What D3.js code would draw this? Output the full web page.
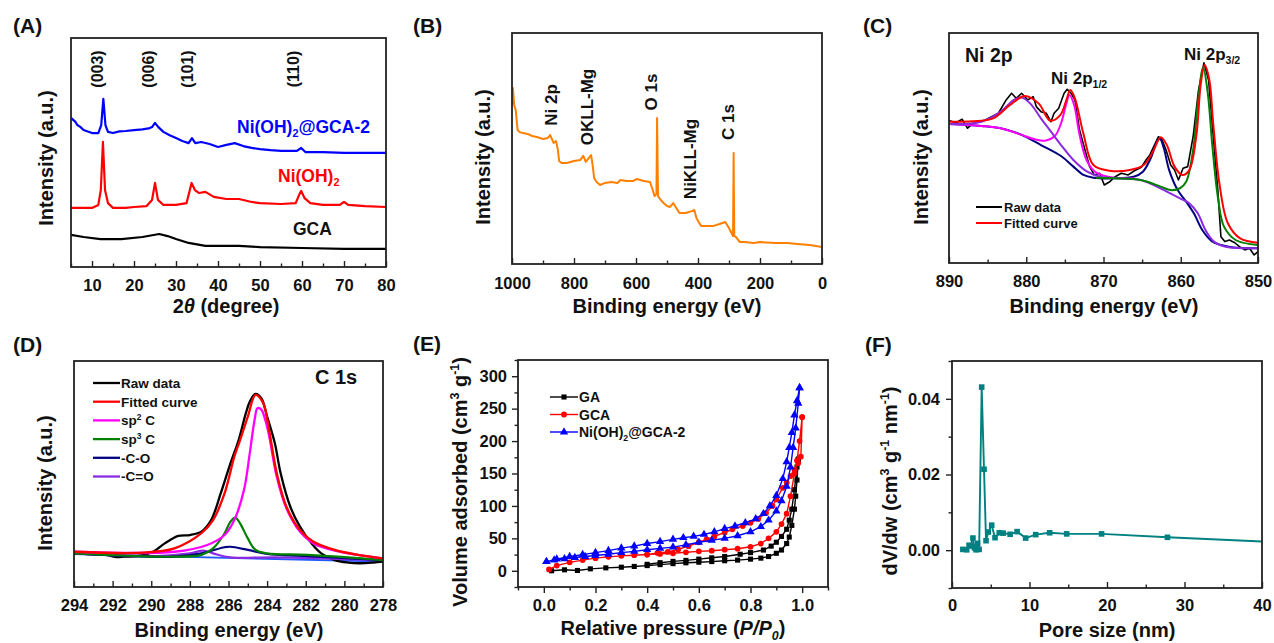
<html>

<head>
    <script src="https://d3js.org/d3.v7.min.js"></script>
    <style>
        body {
            margin: 0;
            background: white;
        }

        text {
            font-family: "Liberation Sans", Arial, sans-serif;
            font-weight: bold;
        }
    </style>
</head>

<body>
    <svg id="fig" width="1274" height="643"></svg>
</body>

<script>
    // ---------- (A) XRD ----------
    const xrdNiGca = [[5,65.1],[6,63.5],[6.5,62],[7.2,61.2],[8,59.8],[9,59.2],[10,58.5],[11.5,58.5],[12.2,62],[12.7,73.4],[13.2,62],[13.8,59],[15,58.5],[16.5,59.2],[18,59.4],[20,59.8],[22,60.1],[23.5,60.5],[24.3,61.1],[25,62.9],[25.8,61.1],[27,59],[28.5,57.5],[30,56.3],[31.5,55],[33,54.1],[33.8,56.3],[34.6,54.1],[36,54.6],[38,53.7],[40,52.4],[42,53.3],[44,54.1],[46,52.8],[48,52],[50,51.5],[52.5,51],[55,50.7],[58.8,50.7],[59.8,52],[60.8,50.2],[65,50.2],[70,49.8],[75,49.8],[80,49.8]];
    const xrdNiOH = [[5,25.8],[8,25.8],[10,25.8],[11.5,27.1],[12.1,33.6],[12.6,54.6],[13.1,33.6],[13.8,27.9],[15,25.8],[18,25.8],[20,26.2],[23,26.6],[24.3,29.3],[25,36.7],[25.7,29.3],[27,27.1],[30,27.1],[32.5,27.9],[33.3,33.6],[33.7,36.7],[34.5,33.6],[35.5,32.3],[37,32.8],[39,30.6],[42,29.7],[45,29.7],[48,28.4],[50,27.9],[55,27.5],[58.5,27.9],[59.3,31.4],[59.8,33.2],[60.6,30.1],[62,27.9],[65,27.1],[69,27.1],[70,28.4],[71,27.1],[75,26.6],[80,26.2]];
    const xrdGca = [[5,14],[8,13.1],[12,12.2],[17,12.2],[22,13.1],[26,14.4],[28,13.5],[30,12.2],[33,10.5],[37,9.2],[45,9.2],[50,8.7],[60,8.3],[70,7.9],[80,7.9]];
    const xrdPeaks = [12.6, 24.8, 34, 59.3];
    const xrdHkl = ["(003)", "(006)", "(101)", "(110)"];
    const xrdMajor = [10, 20, 30, 40, 50, 60, 70, 80];
    const xrdMinor = [5, 15, 25, 35, 45, 55, 65, 75];

    // ---------- (B) XPS survey ----------
    const survey = [[1000,68.8],[997,76.2],[993,68.8],[988,66.7],[982,58],[975,57.1],[965,56.7],[950,56.3],[935,55.4],[920,55],[900,54.1],[885,54.5],[877,55.8],[870,53.7],[866,52.4],[858,53.2],[852,49.4],[848,44.6],[840,43.7],[823,43.7],[800,44.6],[780,45],[770,46.8],[762,44.2],[752,45.9],[745,47.2],[740,42.9],[735,37.2],[727,35.5],[716,34.2],[700,35.1],[680,35.5],[660,35.1],[650,36.4],[630,35.9],[610,35.9],[597,36.8],[575,35.9],[555,35.5],[548,32.9],[540,29.4],[534,30.3],[532,63.2],[529,29.4],[520,27.7],[511,26.4],[500,25.1],[490,24.7],[480,26.4],[470,24.2],[460,22.1],[440,22.1],[420,22.9],[412,23.4],[405,19.9],[398,18.2],[390,16.5],[370,16.5],[350,16.5],[330,17.3],[312,18.2],[302,16],[292,13.4],[287,12.1],[285,48.1],[283,12.1],[278,11.7],[265,9.5],[250,9.5],[220,9.1],[200,9.5],[150,9.1],[112,9.1],[80,8.7],[40,8.2],[0,7.4]];
    const surveyLabels = ["Ni 2p", "OKLL-Mg", "O 1s", "NiKLL-Mg", "C 1s"];
    const surveyLabelX = [855, 740, 532, 405, 285];
    const surveyMajor = [1000, 800, 600, 400, 200, 0];
    const surveyMinor = [900, 700, 500, 300, 100];

    // ---------- (C) Ni 2p ----------
    const ni2pRaw = [[890,61.9],[889.1,61],[888.3,62.5],[887.6,58.6],[887,60.4],[886.2,61.4],[885.3,62.2],[884.5,63.6],[883.6,65.1],[882.6,70.9],[881.9,73.8],[881.3,71.6],[880.6,73.8],[879.8,70.9],[879.1,72.3],[878.7,68],[878.1,65.8],[877.4,65.1],[876.8,61.4],[876.4,65.1],[875.8,67.3],[875.1,73.8],[874.7,75.5],[874.2,73.8],[873.7,70.9],[873.1,57.8],[872.4,49.1],[871.8,41.9],[871.2,38.3],[870.5,39],[869.9,33.9],[869.2,35.3],[868.6,37.3],[867.7,39],[866.8,38.3],[866,40.1],[865.1,41.6],[864.5,44.8],[864,47],[863.5,50.6],[862.9,54.9],[862.5,54.2],[861.9,49.1],[861.3,42.6],[860.8,40.4],[860.3,36.1],[859.7,41.2],[859.1,41.9],[858.4,54.9],[857.7,75.2],[857,87],[856.4,79.6],[855.9,59.3],[855.2,31.7],[854.8,11.4],[854.3,9.3],[853.7,10],[853,8.8],[852.4,7.1],[851.7,5.7],[851.1,6.4],[850.5,3.5],[850,4.9]];
    const ni2pFit = [[890,61.4],[887,61.6],[884.3,62.9],[882.1,68.7],[880.2,72.6],[878.4,69.4],[876.9,61.9],[875.6,64.3],[874.8,70.9],[874.3,75.2],[873.7,71.6],[872.6,56.2],[871.3,42.6],[869.2,40.1],[866.6,40.4],[864.8,42.6],[863.6,48.4],[862.6,54.7],[861.8,51.3],[860.8,41.9],[859.8,38.3],[858.9,40.4],[858,54.9],[857.4,78.1],[856.9,86.1],[856.3,79.6],[855.8,60.7],[855,34.7],[853.9,17.3],[852.3,10.7],[850,8.8]];
    const ni2pSatA = [[890,60.4],[885.8,59.6],[883.3,58.6],[880.6,55.7],[878.1,51.3],[875.5,46.5],[873.9,41.9],[872.6,38.3],[871.3,37.1],[868.7,36.8],[866.1,37.5],[864.9,39.7],[863.8,46.2],[863.2,52],[862.7,54],[862.2,50],[861.5,40.4],[860.4,31.7],[859.3,26.7],[858.3,21.6],[857.2,14.3],[855.9,9.3],[853.8,7.1],[850,6.4]];
    const ni2pSatB = [[890,60.4],[885.8,61.4],[883.3,65.8],[881.6,70.9],[880.6,71.9],[879.5,69.4],[878.1,62.9],[876.8,57.1],[875.5,51.3],[873.9,44.8],[872.1,39.7],[870.4,37.5],[867.8,36.8],[865.2,36.1],[863.5,33.9],[861.8,31],[860.1,28.1],[858.9,26],[857.8,21.6],[856.8,14.3],[855.7,9.3],[854.2,7.1],[850,6.4]];
    const ni2p12 = [[890,60.4],[885.8,59.6],[883.3,58.6],[880.6,55.7],[878.9,53.8],[877.6,53.2],[876.3,55.2],[875.5,60.7],[874.8,69.4],[874.4,73],[873.8,68.7],[873.1,55.7],[872.2,44.8],[871.1,39.7],[869.4,37.5],[867.3,36.8],[866,36.8]];
    const ni2p32 = [[871,37.1],[868.7,36.8],[866.1,36.5],[864.3,35.3],[862.6,33.2],[861.3,31.7],[860.1,32.5],[859.3,35.3],[858.4,49.1],[857.8,69.4],[857.1,85],[856.5,73.8],[855.9,50.6],[855.2,28.8],[854.4,15.8],[852.9,10],[850,7.8]];
    const ni2pMajor = [890, 880, 870, 860, 850];
    const ni2pMinor = [885, 875, 865, 855];

    // ---------- (D) C 1s ----------
    const c1sRaw = [[294,14.9],[293,14.5],[292.3,14.2],[291.8,13.2],[291.4,13.4],[290.5,14],[289.9,15.6],[289.3,19.3],[288.6,22.6],[288,23],[287.4,24.5],[286.9,29.6],[286.4,41.5],[285.9,54.7],[285.5,64.3],[285.1,76.9],[284.9,82],[284.6,85.4],[284.3,83.5],[284,75.4],[283.6,63.6],[283.3,50.3],[282.8,35.5],[282.3,26.7],[281.7,19.3],[281.2,14.9],[280.5,11.9],[279.8,10.8],[279.2,10.5],[278.5,10.8],[278,11.2]];
    const c1sFit = [[294,15.6],[290.5,15.2],[288.8,17.1],[287.4,23.8],[286.8,29.6],[286.2,41.5],[285.7,57.7],[285.4,65],[285,75.4],[284.6,85],[284.2,81.3],[283.9,69.5],[283.5,50.3],[283,35.5],[282.3,25.2],[281.6,20],[280.5,16.4],[279.3,14.2],[278,12.7]];
    const c1sSp2 = [[294,15.6],[288.8,15.6],[287.1,18.6],[286.2,23],[285.7,29.6],[285.2,42.9],[284.9,59.1],[284.65,73.9],[284.5,79.1],[284.3,78.5],[284.1,74],[283.9,67],[283.5,48.8],[283,34.8],[282.3,24.5],[281.6,19.3],[280.5,16.1],[279.3,14.2],[278,12.7]];
    const c1sSp3 = [[294,14.9],[288.8,13.4],[287.4,14.2],[286.8,17.1],[286.2,23.8],[285.9,28.9],[285.65,30.7],[285.4,28.2],[285,21.5],[284.6,16.4],[284,14.9],[281.9,14.2],[278,11.9]];
    const c1sCO = [[294,14.9],[288.8,13.4],[287.4,14.9],[286.2,17.6],[285.9,17.8],[285,16.4],[284,14.6],[281.9,13.7],[278,11.9]];
    const c1sCdO = [[294,14.9],[289.7,13.7],[288,14.9],[287.3,16.1],[286.8,14.9],[285.9,13.1],[283.6,13.1],[278,11.9]];
    const c1sBase = [[294,14.6],[278,11.2]];
    const c1sMajor = [294, 292, 290, 288, 286, 284, 282, 280, 278];
    const c1sMinor = [293, 291, 289, 287, 285, 283, 281, 279];

    // ---------- (E) N2 isotherms ----------
    const gaAds = [[0.03,0],[0.08,1.5],[0.13,0.5],[0.18,3],[0.24,4.5],[0.3,5.5],[0.35,6.7],[0.4,8],[0.45,9.5],[0.5,11],[0.55,12.3],[0.6,13.2],[0.65,14.2],[0.7,15.5],[0.75,16.5],[0.8,18],[0.84,19.5],[0.87,22],[0.9,27],[0.92,32],[0.94,42],[0.95,52],[0.96,70],[0.97,95],[0.975,115],[0.98,140],[0.985,172]];
    const gaDes = [[0.985,172],[0.98,160],[0.97,125],[0.96,95],[0.95,78],[0.94,64],[0.92,53],[0.9,44],[0.88,38],[0.85,32],[0.8,28],[0.76,25.5],[0.7,22],[0.65,20],[0.6,18],[0.55,16],[0.5,14.5],[0.45,12.5],[0.4,10]];
    const gcaAds = [[0.02,2],[0.05,8],[0.1,13],[0.15,16.5],[0.2,19.5],[0.25,21.5],[0.3,23],[0.35,24],[0.4,25],[0.45,26],[0.5,27],[0.55,28.5],[0.6,30],[0.65,31],[0.7,32.5],[0.75,34],[0.8,37],[0.84,42],[0.87,50],[0.9,60],[0.92,72],[0.94,88],[0.955,115],[0.97,150],[0.98,170],[0.99,200],[1.0,237]];
    const gcaDes = [[1.0,237],[0.995,176],[0.985,166],[0.97,156],[0.955,146],[0.94,136],[0.925,128],[0.9,110],[0.885,100],[0.86,89],[0.83,80],[0.8,74],[0.77,69],[0.73,64],[0.7,59],[0.66,53],[0.63,48.5],[0.6,44],[0.56,38],[0.52,33],[0.48,29],[0.44,27.5],[0.4,25]];
    const niAds = [[0.01,14],[0.04,16.5],[0.08,18.5],[0.12,20.5],[0.16,22],[0.2,23.5],[0.25,25.5],[0.3,28],[0.35,30],[0.4,32.5],[0.45,34.5],[0.5,36.5],[0.55,40],[0.6,44],[0.65,47],[0.7,50],[0.75,54],[0.8,60],[0.84,68],[0.87,78],[0.9,92],[0.92,108],[0.94,130],[0.955,160],[0.965,190],[0.975,220],[0.985,258],[0.99,282]];
    const niDes = [[0.99,282],[0.98,262],[0.97,240],[0.96,213],[0.95,190],[0.94,168],[0.925,142],[0.9,116],[0.875,100],[0.85,88],[0.82,80],[0.78,74],[0.74,69],[0.7,65],[0.66,60],[0.62,56],[0.58,53],[0.54,51],[0.5,48.5],[0.45,45],[0.4,42],[0.35,38],[0.3,35],[0.25,31],[0.2,28],[0.15,25],[0.1,22],[0.05,18],[0.01,14]];
    const isoXMajor = [0, 0.2, 0.4, 0.6, 0.8, 1.0];
    const isoXMinor = [-0.1, 0.1, 0.3, 0.5, 0.7, 0.9, 1.1];
    const isoYMajor = [0, 50, 100, 150, 200, 250, 300];
    const isoYMinor = [-25, 25, 75, 125, 175, 225, 275, 325];

    // ---------- (F) pore size ----------
    const poreSize = [1.4, 1.9, 2.2, 2.4, 2.7, 2.9, 3.1, 3.3, 3.5, 3.83, 4.13, 4.39, 4.69, 5.12, 5.55, 6.1, 6.6, 7.5, 8.4, 9.5, 10.8, 12.6, 14.8, 19.3, 27.8, 40];
    const poreDvdw = [0.0002, 0.0001, 0.0013, 0.0011, 0.0032, 0.0006, 0.0001, 0.0018, 0.0002, 0.0431, 0.0214, 0.0025, 0.0048, 0.0066, 0.0033, 0.0046, 0.0045, 0.0042, 0.0049, 0.0032, 0.0041, 0.0046, 0.0043, 0.0043, 0.0034, 0.0023];
    const poreXMajor = [0, 10, 20, 30, 40];
    const poreXMinor = [5, 15, 25, 35];
    const poreYMajor = [0, 0.02, 0.04];
    const poreYMinor = [-0.01, 0.01, 0.03, 0.05];

    const svg = d3.select("#fig");
    const frameColor = "#222";

    function makePanel(id, box, xDom, yDom) {
        const [l, t, r, b] = box;
        const x = d3.scaleLinear().domain(xDom).range([l, r]);
        const y = d3.scaleLinear().domain(yDom).range([b, t]);
        svg.append("clipPath").attr("id", "clip-" + id)
            .append("rect").attr("x", l).attr("y", t).attr("width", r - l).attr("height", b - t);
        const plot = svg.append("g").attr("clip-path", `url(#clip-${id})`);
        return { l, t, r, b, x, y, plot };
    }

    function styleAxis(g) {
        g.selectAll(".domain").remove();
        g.selectAll(".tick line").attr("stroke", frameColor).attr("stroke-width", 1.4);
        g.selectAll(".tick text")
            .attr("fill", "#111")
            .attr("font-size", 16.5)
            .attr("font-family", '"Liberation Sans", Arial, sans-serif')
            .attr("font-weight", "bold");
    }

    // dir -1 = ticks inside the frame, 1 = outside
    function xAxis(p, major, minor, fmt, dir, pad) {
        const g = svg.append("g").attr("transform", `translate(0,${p.b})`);
        g.append("g").call(d3.axisBottom(p.x).tickValues(minor).tickSize(dir * 3.5).tickFormat(""));
        g.append("g").call(d3.axisBottom(p.x).tickValues(major).tickSize(dir * 6).tickPadding(pad).tickFormat(fmt));
        styleAxis(g);
    }

    function yAxis(p, major, minor, fmt, dir, pad) {
        const g = svg.append("g").attr("transform", `translate(${p.l},0)`);
        g.append("g").call(d3.axisLeft(p.y).tickValues(minor).tickSize(dir * 3.5).tickFormat(""));
        g.append("g").call(d3.axisLeft(p.y).tickValues(major).tickSize(dir * 6).tickPadding(pad).tickFormat(fmt));
        styleAxis(g);
    }

    function frame(p) {
        svg.append("rect").attr("x", p.l).attr("y", p.t)
            .attr("width", p.r - p.l).attr("height", p.b - p.t)
            .attr("fill", "none").attr("stroke", frameColor).attr("stroke-width", 1.8);
    }

    function drawLine(p, data, color, w, curve) {
        p.plot.append("path").datum(data)
            .attr("fill", "none").attr("stroke", color).attr("stroke-width", w)
            .attr("stroke-linejoin", "round")
            .attr("d", d3.line().x(d => p.x(d[0])).y(d => p.y(d[1])).curve(curve || d3.curveLinear));
    }

    // text with sub / sup / italic pieces
    function rich(el, parts) {
        const fs = +el.attr("font-size");
        let shift = 0;
        parts.forEach(part => {
            const [t, k] = Array.isArray(part) ? part : [part, ""];
            const small = k === "sub" || k === "sup" || k === "itsub";
            const want = (k === "sub" || k === "itsub") ? fs * 0.25 : k === "sup" ? -fs * 0.38 : 0;
            const ts = el.append("tspan").text(t).attr("dy", want - shift);
            shift = want;
            if (small) ts.attr("font-size", fs * 0.62);
            if (k === "it" || k === "itsub") ts.attr("font-style", "italic");
        });
        return el;
    }

    function label(x, y, size, parts, opts = {}) {
        const t = svg.append("text")
            .attr("font-size", size)
            .attr("fill", opts.color || "#111")
            .attr("text-anchor", opts.anchor || "start");
        if (opts.rotate) {
            t.attr("transform", `translate(${x},${y}) rotate(-90)`).attr("dy", opts.dy || 0);
        } else {
            t.attr("x", x).attr("y", y);
        }
        return rich(t, parts);
    }

    const smooth = d3.curveCatmullRom.alpha(0.5);

    // ================= (A) =================
    const pA = makePanel("a", [71, 38, 386, 267], [5, 80], [0, 100]);
    drawLine(pA, xrdGca, "#000", 2.2);
    drawLine(pA, xrdNiOH, "#ff0000", 2.2);
    drawLine(pA, xrdNiGca, "#0000ff", 2.2);
    xAxis(pA, xrdMajor, xrdMinor, d3.format("d"), -1, 12);
    frame(pA);
    xrdPeaks.forEach((pk, i) => {
        label(pA.x(pk), 69, 16, [xrdHkl[i]], { rotate: true, anchor: "middle", dy: "0.36em" });
    });
    label(237, 132.5, 17.5, ["Ni(OH)", ["2", "sub"], "@GCA-2"], { color: "#0000ff" });
    label(278, 182, 17.5, ["Ni(OH)", ["2", "sub"]], { color: "#ff0000" });
    label(293, 235, 17.5, ["GCA"]);
    label(226, 313, 20, ["2", ["θ", "it"], " (degree)"], { anchor: "middle" });
    label(52.5, 158, 20, ["Intensity (a.u.)"], { rotate: true, anchor: "middle" });
    label(13, 33, 21, ["(A)"]);

    // ================= (B) =================
    const pB = makePanel("b", [512, 33, 822, 264], [1000, 0], [0, 100]);
    drawLine(pB, survey, "#ff8000", 2);
    xAxis(pB, surveyMajor, surveyMinor, d3.format("d"), -1, 13.5);
    frame(pB);
    const surveyLabelY = [105, 107, 92, 159, 122];
    surveyLabels.forEach((s, i) => {
        label(pB.x(surveyLabelX[i]), surveyLabelY[i], 17, [s], { rotate: true, anchor: "middle", dy: "0.36em" });
    });
    label(667, 313, 20, ["Binding energy (eV)"], { anchor: "middle" });
    label(490, 157, 20, ["Intensity (a.u.)"], { rotate: true, anchor: "middle" });
    label(413, 33, 21, ["(B)"]);

    // ================= (C) =================
    const pC = makePanel("c", [949, 33, 1258, 263], [890, 850], [0, 100]);
    drawLine(pC, ni2pRaw, "#000", 1.6);
    drawLine(pC, ni2pSatA, "#000080", 2, smooth);
    drawLine(pC, ni2p12, "#ff00ff", 2, smooth);
    drawLine(pC, ni2pSatB, "#8a2be2", 2, smooth);
    drawLine(pC, ni2p32, "#008000", 2, smooth);
    drawLine(pC, ni2pFit, "#ff0000", 2, smooth);
    xAxis(pC, ni2pMajor, ni2pMinor, d3.format("d"), -1, 12.5);
    frame(pC);
    label(965, 61.5, 19.5, ["Ni 2p"]);
    label(1051, 84, 17, ["Ni 2p", ["1/2", "sub"]]);
    label(1184, 60, 17, ["Ni 2p", ["3/2", "sub"]]);
    const ni2pLegend = [["Raw data", "#000"], ["Fitted curve", "#ff0000"]];
    ni2pLegend.forEach(([name, col], i) => {
        const ly = 207 + i * 16;
        svg.append("line").attr("x1", 976).attr("x2", 1002).attr("y1", ly).attr("y2", ly)
            .attr("stroke", col).attr("stroke-width", 2);
        label(1004, ly + 4.6, 13, [name]);
    });
    label(1104, 313, 20, ["Binding energy (eV)"], { anchor: "middle" });
    label(928, 157, 20, ["Intensity (a.u.)"], { rotate: true, anchor: "middle" });
    label(863, 33, 21, ["(C)"]);

    // ================= (D) =================
    const pD = makePanel("d", [74, 361, 383, 587], [294, 278], [0, 100]);
    drawLine(pD, c1sBase, "#1e5aff", 1.8);
    drawLine(pD, c1sRaw, "#000", 2.3, smooth);
    drawLine(pD, c1sCdO, "#8a2be2", 2.2, smooth);
    drawLine(pD, c1sCO, "#000080", 2.2, smooth);
    drawLine(pD, c1sSp3, "#008000", 2.2, smooth);
    drawLine(pD, c1sSp2, "#ff00ff", 2.3, smooth);
    drawLine(pD, c1sFit, "#ff0000", 2.3, smooth);
    xAxis(pD, c1sMajor, c1sMinor, d3.format("d"), -1, 12.5);
    frame(pD);
    label(315, 384, 20, ["C 1s"]);
    const c1sLegend = [
        [["Raw data"], "#000"],
        [["Fitted curve"], "#ff0000"],
        [["sp", ["2", "sup"], " C"], "#ff00ff"],
        [["sp", ["3", "sup"], " C"], "#008000"],
        [["-C-O"], "#000080"],
        [["-C=O"], "#8a2be2"]
    ];
    c1sLegend.forEach(([parts, col], i) => {
        const ly = 383 + i * 18.7;
        svg.append("line").attr("x1", 93).attr("x2", 120).attr("y1", ly).attr("y2", ly)
            .attr("stroke", col).attr("stroke-width", 2.3);
        label(121, ly + 4.8, 13.5, parts);
    });
    label(229, 637, 20, ["Binding energy (eV)"], { anchor: "middle" });
    label(52, 483, 20, ["Intensity (a.u.)"], { rotate: true, anchor: "middle" });
    label(13, 352, 21, ["(D)"]);

    // ================= (E) =================
    const pE = makePanel("e", [518, 360, 828, 587], [-0.1, 1.1], [-25, 325]);
    const isoSeries = [
        { ads: gaAds, des: gaDes, color: "#000", shape: d3.symbolSquare, size: 26 },
        { ads: gcaAds, des: gcaDes, color: "#ff0000", shape: d3.symbolCircle, size: 26 },
        { ads: niAds, des: niDes, color: "#0000ff", shape: d3.symbolTriangle, size: 30 }
    ];
    isoSeries.forEach(s => {
        const pts = s.ads.concat(s.des);
        drawLine(pE, pts, s.color, 1.4);
        pE.plot.append("g").selectAll("path").data(pts).join("path")
            .attr("transform", d => `translate(${pE.x(d[0])},${pE.y(d[1])})`)
            .attr("d", d3.symbol().type(s.shape).size(s.size))
            .attr("fill", s.color);
    });
    xAxis(pE, isoXMajor, isoXMinor, d3.format(".1f"), 1, 6.5);
    yAxis(pE, isoYMajor, isoYMinor, d3.format("d"), 1, 5);
    frame(pE);
    const isoLegend = [["GA"], ["GCA"], ["Ni(OH)", ["2", "sub"], "@GCA-2"]];
    isoLegend.forEach((parts, i) => {
        const s = isoSeries[i];
        const ly = 397 + i * 17.5;
        svg.append("line").attr("x1", 550).attr("x2", 578).attr("y1", ly).attr("y2", ly)
            .attr("stroke", s.color).attr("stroke-width", 1.4);
        svg.append("path").attr("transform", `translate(564,${ly})`)
            .attr("d", d3.symbol().type(s.shape).size(s.size)).attr("fill", s.color);
        label(579, ly + 5, 14, parts);
    });
    label(673, 635, 20, ["Relative pressure (", ["P/P", "it"], ["0", "itsub"], ")"], { anchor: "middle" });
    label(467, 482, 20, ["Volume adsorbed (cm", ["3", "sup"], " g", ["-1", "sup"], ")"], { rotate: true, anchor: "middle" });
    label(413, 351, 21, ["(E)"]);

    // ================= (F) =================
    const pF = makePanel("f", [952, 361, 1262, 588], [0, 40], [-0.01, 0.05]);
    const poreData = poreSize.map((s, i) => [s, poreDvdw[i]]);
    drawLine(pF, poreData, "#008080", 1.9);
    pF.plot.append("g").selectAll("rect").data(poreData.slice(0, -1)).join("rect")
        .attr("x", d => pF.x(d[0]) - 2.8).attr("y", d => pF.y(d[1]) - 2.8)
        .attr("width", 5.6).attr("height", 5.6)
        .attr("fill", "#008080");
    xAxis(pF, poreXMajor, poreXMinor, d3.format("d"), -1, 11.5);
    yAxis(pF, poreYMajor, poreYMinor, d3.format(".2f"), 1, 6);
    frame(pF);
    label(1107, 637, 20, ["Pore size (nm)"], { anchor: "middle" });
    label(897, 481, 20, ["dV/dw (cm", ["3", "sup"], " g", ["-1", "sup"], " nm", ["-1", "sup"], ")"], { rotate: true, anchor: "middle" });
    label(865, 352, 21, ["(F)"]);
</script>

</html>
